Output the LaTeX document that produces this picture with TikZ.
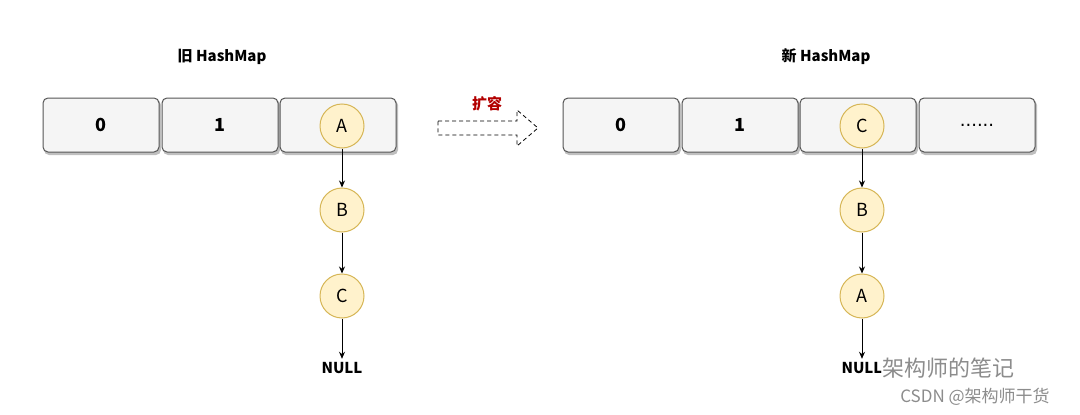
\documentclass[tikz,border=0pt]{standalone}
\usepackage{fontspec}
\setmainfont{Noto Sans CJK SC}
\newfontfamily\latinf{DejaVu Sans}
\usetikzlibrary{arrows.meta}
\definecolor{cellfill}{HTML}{F5F5F5}
\definecolor{cellline}{HTML}{555555}
\definecolor{cfill}{HTML}{FFF2CC}
\definecolor{cline}{HTML}{D6B656}
\definecolor{red1}{HTML}{B20000}
\begin{document}
\begin{tikzpicture}[x=1pt,y=-1pt,
 cell/.style={draw=cellline,fill=cellfill,line width=1pt,rounded corners=5pt,minimum width=116pt,minimum height=54pt,font=\bfseries\fontsize{18}{18}\selectfont},
 nd/.style={circle,draw=cline,fill=cfill,line width=1pt,minimum size=44pt,inner sep=0pt,font=\fontsize{18}{18}\selectfont},
 lk/.style={-{Stealth[length=7pt,width=6pt]},line width=0.9pt},
 ttl/.style={font=\bfseries\fontsize{15}{15}\selectfont}]
\useasboundingbox (0,0) rectangle (1080,415);
\foreach \x in {101,220,338,621,740,858,977}{
  \fill[black!25,rounded corners=5pt] (\x-57,100) rectangle (\x+60,155);
}
\node[cell] (l0) at (101,125) {0};
\node[cell] (l1) at (220,125) {1};
\node[cell] (l2) at (338,125) {};
\node[cell] (r0) at (621,125) {0};
\node[cell] (r1) at (740,125) {1};
\node[cell] (r2) at (858,125) {};
\node[cell] (r3) at (977,125) {\latinf\mdseries ......};
\node[ttl] (t1) at (222,57) {旧 HashMap};
\node[ttl] (t2) at (826,57) {新 HashMap};
\node[nd] (A) at (342,126) {\itshape A};
\node[nd] (B) at (342,210) {B};
\node[nd] (C) at (342,296) {C};
\node[font=\bfseries\fontsize{15}{15}\selectfont] (N1) at (342,368) {NULL};
\node[nd] (C2) at (862,126) {C};
\node[nd] (B2) at (862,210) {B};
\node[nd] (A2) at (862,296) {A};
\node[font=\bfseries\fontsize{15}{15}\selectfont] (N2) at (862,368) {NULL};
\draw[lk] (A) -- (B);
\draw[lk] (B) -- (C);
\draw[lk] (C) -- (N1);
\draw[lk] (C2) -- (B2);
\draw[lk] (B2) -- (A2);
\draw[lk] (A2) -- (N2);
\node[font=\bfseries\fontsize{15}{15}\selectfont,text=red1] (k) at (487,104) {扩容};
\draw[line width=0.8pt,dash pattern=on 4pt off 3pt,fill=white] (438,121) -- (517,121) -- (517,110) -- (538,128) -- (517,146) -- (517,135) -- (438,135) -- cycle;
\node[text=black!45,font=\fontsize{22}{22}\selectfont,fill=white,fill opacity=0.6,text opacity=1,inner sep=1pt] (w1) at (948,368) {架构师的笔记};
\node[text=black!45,font=\fontsize{17}{17}\selectfont] (w2) at (975,397) {CSDN @架构师干货};
\end{tikzpicture}
\end{document}
